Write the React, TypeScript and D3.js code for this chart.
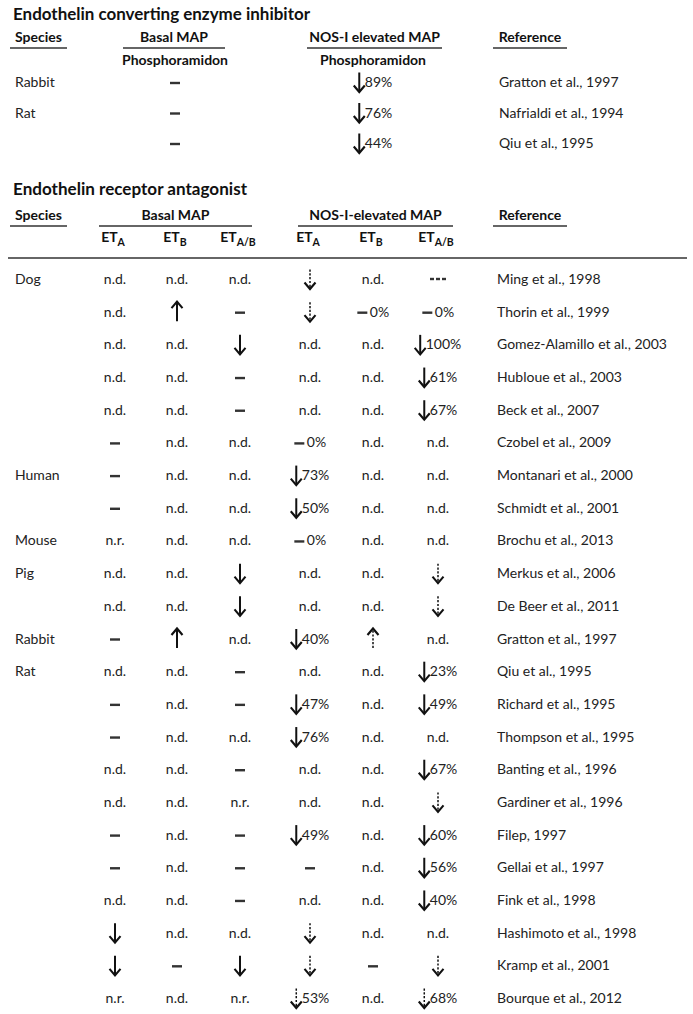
import * as d3 from "d3";
import React from "react";

const FONT = "Lato, 'Open Sans', sans-serif";
const INK = "#222";

// converting enzyme inhibitor table
const ECE_SPECIES = ["Rabbit", "Rat", ""];
const ECE_BASAL = ["–", "–", "–"];
const ECE_NOS = ["↓89%", "↓76%", "↓44%"];
const ECE_REFS = ["Gratton et al., 1997", "Nafrialdi et al., 1994", "Qiu et al., 1995"];

// receptor antagonist table
const ERA_SPECIES = [
  "Dog", "", "", "", "", "", "Human", "", "Mouse", "Pig", "", "Rabbit",
  "Rat", "", "", "", "", "", "", "", "", "", "",
];
const ERA_REFS = [
  "Ming et al., 1998",
  "Thorin et al., 1999",
  "Gomez-Alamillo et al., 2003",
  "Hubloue et al., 2003",
  "Beck et al., 2007",
  "Czobel et al., 2009",
  "Montanari et al., 2000",
  "Schmidt et al., 2001",
  "Brochu et al., 2013",
  "Merkus et al., 2006",
  "De Beer et al., 2011",
  "Gratton et al., 1997",
  "Qiu et al., 1995",
  "Richard et al., 1995",
  "Thompson et al., 1995",
  "Banting et al., 1996",
  "Gardiner et al., 1996",
  "Filep, 1997",
  "Gellai et al., 1997",
  "Fink et al., 1998",
  "Hashimoto et al., 1998",
  "Kramp et al., 2001",
  "Bourque et al., 2012",
];
const BASAL_ETA = [
  "n.d.", "n.d.", "n.d.", "n.d.", "n.d.", "–", "–", "–", "n.r.", "n.d.", "n.d.", "–",
  "n.d.", "–", "–", "n.d.", "n.d.", "–", "–", "n.d.", "↓", "↓", "n.r.",
];
const BASAL_ETB = [
  "n.d.", "↑", "n.d.", "n.d.", "n.d.", "n.d.", "n.d.", "n.d.", "n.d.", "n.d.", "n.d.", "↑",
  "n.d.", "n.d.", "n.d.", "n.d.", "n.d.", "n.d.", "n.d.", "n.d.", "n.d.", "–", "n.d.",
];
const BASAL_ETAB = [
  "n.d.", "–", "↓", "–", "–", "n.d.", "n.d.", "n.d.", "n.d.", "↓", "↓", "n.d.",
  "–", "–", "n.d.", "–", "n.r.", "–", "–", "–", "n.d.", "↓", "n.r.",
];
const NOS_ETA = [
  "⇣", "⇣", "n.d.", "n.d.", "n.d.", "–0%", "↓73%", "↓50%", "–0%", "n.d.", "n.d.", "↓40%",
  "n.d.", "↓47%", "↓76%", "n.d.", "n.d.", "↓49%", "–", "n.d.", "⇣", "⇣", "⇣53%",
];
const NOS_ETB = [
  "n.d.", "–0%", "n.d.", "n.d.", "n.d.", "n.d.", "n.d.", "n.d.", "n.d.", "n.d.", "n.d.", "⇡",
  "n.d.", "n.d.", "n.d.", "n.d.", "n.d.", "n.d.", "n.d.", "n.d.", "n.d.", "–", "n.d.",
];
const NOS_ETAB = [
  "---", "–0%", "↓100%", "↓61%", "↓67%", "n.d.", "n.d.", "n.d.", "n.d.", "⇣", "⇣", "n.d.",
  "↓23%", "↓49%", "n.d.", "↓67%", "⇣", "↓60%", "↓56%", "↓40%", "n.d.", "⇣", "⇣68%",
];

const ERA_COLS = ["bA", "bB", "bAB", "nA", "nB", "nAB"];
const ERA_DATA = [BASAL_ETA, BASAL_ETB, BASAL_ETAB, NOS_ETA, NOS_ETB, NOS_ETAB];
const ERA_SUBS = ["A", "B", "A/B", "A", "B", "A/B"];

let ctx: CanvasRenderingContext2D | null = null;
function textWidth(s: string, size: number) {
  if (!ctx) ctx = document.createElement("canvas").getContext("2d");
  if (!ctx) return s.length * size * 0.5;
  ctx.font = `${size}px Lato`;
  return ctx.measureText(s).width;
}

const SYMS = "↓⇣↑⇡–";

function Arrow({ x, y, up = false, dashed = false }) {
  const s = up ? -1 : 1;
  const tip = y + 10 * s;
  const tail = y - 9.5 * s;
  return (
    <g stroke="#111" fill="none" strokeLinejoin="miter">
      <line
        x1={x}
        x2={x}
        y1={tail}
        y2={tip - (dashed ? 1.5 * s : 0.5 * s)}
        strokeWidth={dashed ? 1.5 : 2}
        strokeDasharray={dashed ? "2.2 1.6" : null}
      />
      <polyline
        points={`${x - 5.5},${tip - 6.5 * s} ${x},${tip} ${x + 5.5},${tip - 6.5 * s}`}
        strokeWidth={2.1}
      />
    </g>
  );
}

function Dash({ x, y, w = 10 }) {
  return (
    <line x1={x - w / 2} x2={x + w / 2} y1={y + 1} y2={y + 1} stroke="#333" strokeWidth={2.4} />
  );
}

function Symbol({ sym, x, y }) {
  if (sym === "–") return <Dash x={x} y={y} />;
  return <Arrow x={x} y={y} up={sym === "↑" || sym === "⇡"} dashed={sym === "⇣" || sym === "⇡"} />;
}

function Cell({ value, x, y }) {
  if (value === "---") {
    return (
      <g>
        {[-6, 0, 6].map((d) => (
          <Dash key={d} x={x + d} y={y - 1} w={4} />
        ))}
      </g>
    );
  }
  const first = value.charAt(0);
  if (SYMS.includes(first)) {
    const pct = value.slice(1);
    if (!pct) return <Symbol sym={first} x={x} y={y} />;
    const symW = 11;
    const gap = first === "–" ? 2 : 0;
    const total = symW + gap + textWidth(pct, 14);
    const start = x - total / 2;
    return (
      <g>
        <Symbol sym={first} x={start + symW / 2} y={y} />
        <text x={start + symW + gap} y={y + 5} fontSize={14} fill={INK}>
          {pct}
        </text>
      </g>
    );
  }
  return (
    <text x={x} y={y + 5} fontSize={14} fill={INK} textAnchor="middle">
      {value}
    </text>
  );
}

function HeaderGroup({ label, x1, x2, y }) {
  return (
    <g>
      <text x={(x1 + x2) / 2} y={y} textAnchor="middle" fontWeight="bold" fontSize={14} fill="#111">
        {label}
      </text>
      <line x1={x1} x2={x2} y1={y + 6} y2={y + 6} stroke="#333" strokeWidth={1.5} />
    </g>
  );
}

export default function App() {
  const width = 693;
  const height = 1014;

  const refX = 499;
  const speciesX = 15;

  // converting enzyme inhibitor scales
  const eceY = d3.scalePoint<number>().domain(d3.range(ECE_REFS.length)).range([82, 143]);
  const eceX = d3.scaleOrdinal<string, number>().domain(["basal", "nos"]).range([175, 373]);

  // receptor antagonist scales
  const eraY = d3.scalePoint<number>().domain(d3.range(ERA_REFS.length)).range([279, 998]);
  const eraX = d3.scaleOrdinal<string, number>().domain(ERA_COLS).range([115, 177, 240, 310, 373, 438]);

  return (
    <svg
      width={width}
      height={height}
      style={{ position: "absolute", left: 0, top: 0, background: "#fff", display: "block" }}
      fontFamily={FONT}
    >
      {/* section 1 */}
      <text x={13} y={20} fontSize={17} fontWeight="bold" fill="#111" textLength={297} lengthAdjust="spacingAndGlyphs">
        Endothelin converting enzyme inhibitor
      </text>
      <HeaderGroup label="Species" x1={10} x2={67} y={42} />
      <HeaderGroup label="Basal MAP" x1={123} x2={225} y={42} />
      <HeaderGroup label="NOS-I elevated MAP" x1={307} x2={442} y={42} />
      <HeaderGroup label="Reference" x1={493} x2={567} y={42} />
      {["basal", "nos"].map((k) => (
        <text key={k} x={eceX(k)} y={65} textAnchor="middle" fontWeight="bold" fontSize={14} fill="#111">
          Phosphoramidon
        </text>
      ))}
      {ECE_REFS.map((ref, i) => (
        <g key={ref}>
          <text x={speciesX} y={eceY(i)! + 5} fontSize={14} fill={INK}>
            {ECE_SPECIES[i]}
          </text>
          <Cell value={ECE_BASAL[i]} x={eceX("basal")} y={eceY(i)!} />
          <Cell value={ECE_NOS[i]} x={eceX("nos")} y={eceY(i)!} />
          <text x={refX} y={eceY(i)! + 5} fontSize={14} fill={INK}>
            {ref}
          </text>
        </g>
      ))}

      {/* section 2 */}
      <text x={13} y={195} fontSize={17} fontWeight="bold" fill="#111" textLength={234} lengthAdjust="spacingAndGlyphs">
        Endothelin receptor antagonist
      </text>
      <HeaderGroup label="Species" x1={10} x2={67} y={220} />
      <HeaderGroup label="Basal MAP" x1={eraX("bA") - 16} x2={eraX("bAB") + 12} y={220} />
      <HeaderGroup label="NOS-I-elevated MAP" x1={eraX("nA") - 12} x2={eraX("nAB") + 15} y={220} />
      <HeaderGroup label="Reference" x1={493} x2={567} y={220} />
      {ERA_COLS.map((c, i) => (
        <text key={c} x={eraX(c) - 2} y={242} textAnchor="middle" fontWeight="bold" fontSize={14} fill="#111">
          ET
          <tspan fontSize={10.5} dy={4}>
            {ERA_SUBS[i]}
          </tspan>
        </text>
      ))}
      <line x1={8} x2={687} y1={258} y2={258} stroke="#333" strokeWidth={1.5} />
      {ERA_REFS.map((ref, i) => (
        <g key={ref + i}>
          <text x={speciesX} y={eraY(i)! + 5} fontSize={14} fill={INK}>
            {ERA_SPECIES[i]}
          </text>
          {ERA_COLS.map((c, j) => (
            <Cell key={c} value={ERA_DATA[j][i]} x={eraX(c)} y={eraY(i)!} />
          ))}
          <text x={refX - 2} y={eraY(i)! + 5} fontSize={14} fill={INK}>
            {ref}
          </text>
        </g>
      ))}
    </svg>
  );
}
